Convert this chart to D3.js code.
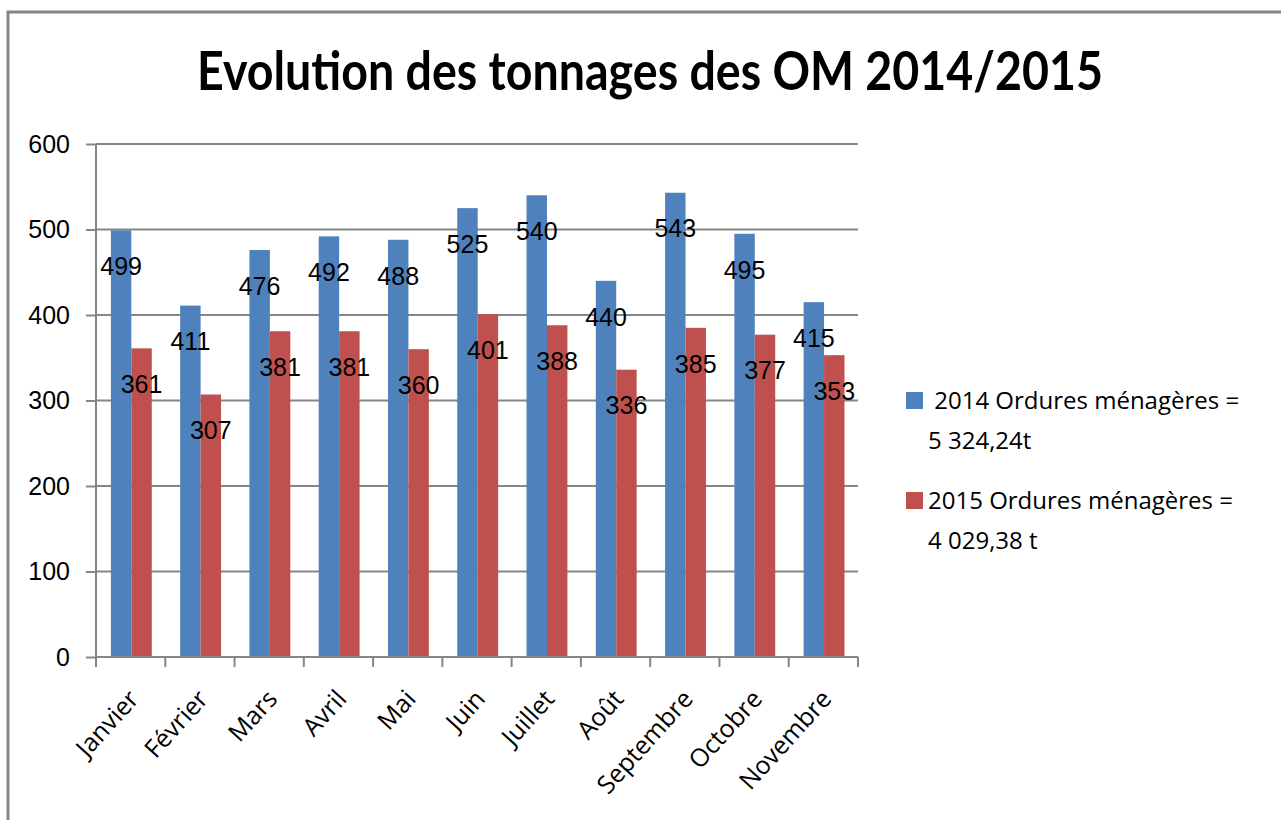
<!DOCTYPE html>
<html>
<head>
<meta charset="utf-8">
<script src="https://cdn.jsdelivr.net/npm/d3@7"></script>
<style>
  body { margin: 0; background: #fff; }
  svg { display: block; }
</style>
</head>
<body>
<div id="chart"></div>
<script>
const months = ["Janvier", "Février", "Mars", "Avril", "Mai", "Juin", "Juillet", "Août", "Septembre", "Octobre", "Novembre"];
const seriesNames = ["2014", "2015"];
const values2014 = [499, 411, 476, 492, 488, 525, 540, 440, 543, 495, 415];
const values2015 = [361, 307, 381, 381, 360, 401, 388, 336, 385, 377, 353];
const yTicks = [0, 100, 200, 300, 400, 500, 600];
const legendLines = [
  [" 2014 Ordures ménagères =", "5 324,24t"],
  ["2015 Ordures ménagères =", "4 029,38 t"]
];
const titleText = "Evolution des tonnages des OM 2014/2015";

const W = 1281, H = 820;
const GRID = "#868686";
const color = d3.scaleOrdinal().domain(seriesNames).range(["#4F81BD", "#C0504D"]);

const svg = d3.select("#chart").append("svg")
  .attr("width", W)
  .attr("height", H);

// outer frame
svg.append("rect")
  .attr("x", 8).attr("y", 12)
  .attr("width", 1400).attr("height", 1000)
  .attr("fill", "none")
  .attr("stroke", GRID)
  .attr("stroke-width", 3);

// title (squeezed to the width it has in the original)
svg.append("text")
  .attr("x", 650)
  .attr("y", 90)
  .attr("text-anchor", "middle")
  .attr("textLength", 906)
  .attr("lengthAdjust", "spacingAndGlyphs")
  .style("font-family", "Lato, 'Open Sans', sans-serif")
  .style("font-weight", "bold")
  .style("font-size", "53px")
  .text(titleText);

// scales
const x = d3.scaleBand().domain(months).range([96, 858]);
const x1 = d3.scaleBand().domain(seriesNames)
  .range([x.bandwidth() * 0.215, x.bandwidth() * 0.805]);
const y = d3.scaleLinear().domain([0, 600]).range([657, 144]);

// gridlines
svg.append("g")
  .selectAll("line")
  .data(yTicks)
  .join("line")
  .attr("x1", 96).attr("x2", 858)
  .attr("y1", d => y(d)).attr("y2", d => y(d))
  .attr("stroke", GRID)
  .attr("stroke-width", 2);

// y axis
const yAxis = svg.append("g")
  .attr("transform", "translate(96,0)")
  .call(d3.axisLeft(y).tickValues(yTicks).tickSize(10).tickPadding(16));
yAxis.selectAll("line, path").attr("stroke", GRID).attr("stroke-width", 2);
yAxis.select(".domain").attr("d", "M0," + y(0) + "V" + y(600));
yAxis.selectAll("text")
  .style("font-family", "'Liberation Sans', Arial, sans-serif")
  .style("font-size", "25px")
  .attr("fill", "#000");

// bars
const rows = months.map((m, i) => ({ month: m, vals: [
  { name: "2014", value: values2014[i] },
  { name: "2015", value: values2015[i] }
] }));

const groups = svg.append("g").selectAll("g")
  .data(rows)
  .join("g")
  .attr("transform", d => `translate(${x(d.month)},0)`);

groups.selectAll("rect")
  .data(d => d.vals)
  .join("rect")
  .attr("x", d => x1(d.name))
  .attr("width", x1.bandwidth())
  .attr("y", d => y(d.value))
  .attr("height", d => y(0) - y(d.value))
  .attr("fill", d => color(d.name));

// x axis
svg.append("line")
  .attr("x1", 96).attr("x2", 858)
  .attr("y1", y(0)).attr("y2", y(0))
  .attr("stroke", GRID).attr("stroke-width", 2);

const bounds = d3.range(months.length + 1);
const xb = d3.scaleLinear().domain([0, months.length]).range([96, 858]);
svg.append("g").selectAll("line")
  .data(bounds)
  .join("line")
  .attr("x1", d => xb(d)).attr("x2", d => xb(d))
  .attr("y1", y(0)).attr("y2", y(0) + 10)
  .attr("stroke", GRID).attr("stroke-width", 2);

svg.append("g").selectAll("text")
  .data(months)
  .join("text")
  .attr("transform", d => `translate(${x(d) + x.bandwidth() / 2 + 3},${y(0) + 37}) rotate(-48)`)
  .attr("text-anchor", "end")
  .attr("dy", "0.35em")
  .style("font-family", "'Open Sans', sans-serif")
  .style("font-size", "25px")
  .text(d => d);

// data labels
groups.selectAll("text")
  .data(d => d.vals)
  .join("text")
  .attr("x", d => x1(d.name) + x1.bandwidth() / 2)
  .attr("y", d => y(d.value) + 36)
  .attr("dy", "0.35em")
  .attr("text-anchor", "middle")
  .style("font-family", "'Liberation Sans', Arial, sans-serif")
  .style("font-size", "25px")
  .text(d => d.value);

// legend
const legend = svg.append("g").selectAll("g")
  .data(seriesNames)
  .join("g")
  .attr("transform", (d, i) => `translate(906,${392 + i * 100})`);

legend.append("rect")
  .attr("width", 17).attr("height", 17)
  .attr("fill", d => color(d));

legend.append("text")
  .attr("y", 17)
  .style("font-family", "'Open Sans', sans-serif")
  .style("font-size", "24px")
  .style("white-space", "pre")
  .selectAll("tspan")
  .data((d, i) => legendLines[i])
  .join("tspan")
  .attr("x", 22)
  .attr("dy", (d, j) => j === 0 ? 0 : 40)
  .text(d => d);
</script>
</body>
</html>
